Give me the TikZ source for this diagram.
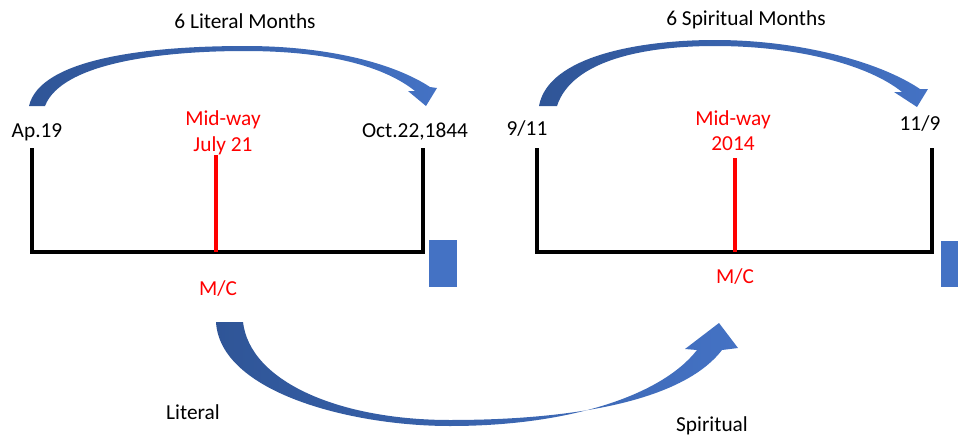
\documentclass[tikz,border=0pt]{standalone}
\usepackage{fontspec}
\setmainfont{Carlito}
\definecolor{boxblue}{HTML}{4472C4}
\definecolor{darkblue}{HTML}{2F5597}
\definecolor{midred}{HTML}{FF0000}
\tikzset{
  lbl/.style={anchor=base, inner sep=0pt, font=\fontsize{16}{18}\selectfont},
  redlbl/.style={lbl, text=midred},
  tline/.style={line width=2.4pt, black},
  midline/.style={line width=2.4pt, midred},
}
\begin{document}
\begin{tikzpicture}[x=0.75pt, y=-0.75pt]
			\useasboundingbox (0,0) rectangle (958,436);

			% Define points of the two time lines
			\coordinate (L1) at (32,148);
			\coordinate (L2) at (32,252);
			\coordinate (L3) at (423,252);
			\coordinate (L4) at (423,148);
			\coordinate (LM1) at (216,155);
			\coordinate (LM2) at (216,252);
			\coordinate (S1) at (537,148);
			\coordinate (S2) at (537,252);
			\coordinate (S3) at (932,252);
			\coordinate (S4) at (932,148);
			\coordinate (SM1) at (735,158);
			\coordinate (SM2) at (735,252);

			% Labels
			\node[lbl] (lmonths) at (245,28) {6 Literal Months};
			\node[lbl] (smonths) at (746,25) {6 Spiritual Months};
			\node[lbl] (apr) at (37,137) {Ap.19};
			\node[lbl] (oct) at (415,137) {Oct.22,1844};
			\node[lbl] (nine) at (527,135) {9/11};
			\node[lbl] (eleven) at (920,130) {11/9};
			\node[redlbl] (lmid) at (223,125) {Mid-way};
			\node[redlbl] (ldate) at (223,151) {July 21};
			\node[redlbl] (smid) at (733,125) {Mid-way};
			\node[redlbl] (sdate) at (733,150) {2014};
			\node[redlbl] (lmc) at (218,295) {M/C};
			\node[redlbl] (smc) at (735,283) {M/C};
			\node[lbl] (literal) at (193,419) {Literal};
			\node[lbl] (spiritual) at (712,431) {Spiritual};

			% Draw the time lines
			\draw[tline] (L1) -- (L2) -- (L3) -- (L4);
			\draw[midline] (LM1) -- (LM2);
			\draw[tline] (S1) -- (S2) -- (S3) -- (S4);
			\draw[midline] (SM1) -- (SM2);

			% Blue boxes
			\fill[boxblue] (429,240) rectangle (457,287);
			\fill[boxblue] (941,241) rectangle (962,287);

			% Curved arrows
			\shade[left color=darkblue, right color=boxblue]
			  (29,106) .. controls (40,58) and (150,46) .. (245,46)
			  .. controls (330,46) and (395,64) .. (430,87)
			  -- (437,88) -- (426,106) -- (408,91) -- (415,91)
			  .. controls (385,67) and (330,51) .. (245,51)
			  .. controls (165,51) and (62,62) .. (45,106) -- cycle;
			\shade[left color=darkblue, right color=boxblue]
			  (539,106) .. controls (548,56) and (640,40) .. (715,40)
			  .. controls (800,40) and (880,62) .. (920,89)
			  -- (928,89) -- (917,107) -- (894,92) -- (902,92)
			  .. controls (870,66) and (800,46) .. (715,46)
			  .. controls (645,46) and (572,60) .. (557,106) -- cycle;
			\shade[left color=darkblue, right color=boxblue]
			  (216,322) .. controls (220,392) and (350,426) .. (450,426)
			  .. controls (570,426) and (662,395) .. (697,350)
			  -- (685,349) -- (719,323) -- (738,348) -- (722,350)
			  .. controls (682,402) and (570,420) .. (450,420)
			  .. controls (340,420) and (250,382) .. (243,322) -- cycle;

		\end{tikzpicture}
\end{document}
